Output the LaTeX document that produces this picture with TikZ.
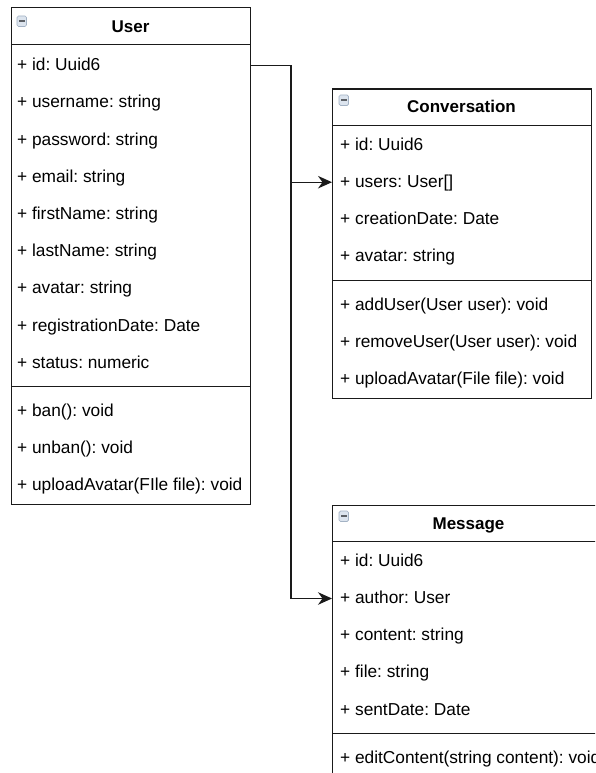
\documentclass[tikz,border=0pt]{standalone}
\usepackage{fontspec}
\setmainfont{Liberation Sans}
\usetikzlibrary{arrows.meta}
\definecolor{edge}{HTML}{1A1A1A}
\definecolor{iconfill}{HTML}{DCE4EE}
\definecolor{iconedge}{HTML}{A3B2C4}
\definecolor{icondash}{HTML}{5C6066}
\frenchspacing
\begin{document}
\begin{tikzpicture}[x=1pt,y=-1pt,
  classbox/.style={draw=edge, line width=1.3pt, fill=white, inner sep=0pt, anchor=north west},
  rule/.style={draw=edge, line width=1.3pt},
  title/.style={font=\bfseries\fontsize{17}{20}\selectfont, anchor=base, inner sep=0pt},
  row/.style={font=\fontsize{17.3}{20}\selectfont, anchor=base west, inner sep=0pt, text height=13pt, text depth=3pt},
  link/.style={draw=edge, line width=1.3pt},
  head/.style={-{Stealth[length=14pt, width=12.5pt, inset=4.5pt]}},
  collapse/.style={draw=iconedge, line width=0.7pt, fill=iconfill, rounded corners=1.5pt}
]
\useasboundingbox (0,0) rectangle (595,773);
\clip (0,0) rectangle (595,773);

% collapse icon in a class header
\newcommand{\collapseicon}[2]{%
  \draw[collapse] (#1,#2) rectangle ++(9.5,10.5);
  \draw[icondash, line width=1.8pt] (#1+2,#2+5.25) -- ++(5.5,0);
}

% ---------- User ----------
\node[classbox, minimum width=238.5pt, minimum height=496.5pt] (user) at (11,7) {};
\collapseicon{17}{16}
\node[title] (user-title) at (130.5,33) {User};
\draw[rule] (11,44.5) -- (249.5,44.5);
\node[row] (u-id)    at (17,70.7)  {+ id: Uuid6};
\node[row] (u-uname) at (17,107.9) {+ username: string};
\node[row] (u-pass)  at (17,145.1) {+ password: string};
\node[row] (u-mail)  at (17,182.3) {+ email: string};
\node[row] (u-first) at (17,219.5) {+ firstName: string};
\node[row] (u-last)  at (17,256.7) {+ lastName: string};
\node[row] (u-avat)  at (17,293.9) {+ avatar: string};
\node[row] (u-reg)   at (17,331.1) {+ registrationDate: Date};
\node[row] (u-stat)  at (17,368.3) {+ status: numeric};
\draw[rule] (11,386.5) -- (249.5,386.5);
\node[row] (u-ban)   at (17,416.5) {+ ban(): void};
\node[row] (u-unban) at (17,453.6) {+ unban(): void};
\node[row] (u-upl)   at (17,490.7) {+ uploadAvatar(FIle file): void};

% ---------- Conversation ----------
\node[classbox, minimum width=259pt, minimum height=309.5pt] (conv) at (332,88.3) {};
\collapseicon{339}{95}
\node[title] (conv-title) at (461.5,112.7) {Conversation};
\draw[rule] (332,125.3) -- (591,125.3);
\node[row] (c-id)    at (340,150)   {+ id: Uuid6};
\node[row] (c-users) at (340,187.2) {+ users: User[]};
\node[row] (c-date)  at (340,224.4) {+ creationDate: Date};
\node[row] (c-avat)  at (340,261.6) {+ avatar: string};
\draw[rule] (332,280.5) -- (591,280.5);
\node[row] (c-add)   at (340,310)   {+ addUser(User user): void};
\node[row] (c-rem)   at (340,347)   {+ removeUser(User user): void};
\node[row] (c-upl)   at (340,384)   {+ uploadAvatar(File file): void};

% ---------- Message ----------
\node[classbox, minimum width=273pt, minimum height=300pt] (msg) at (332,504.5) {};
\collapseicon{339}{511}
\node[title] (msg-title) at (468.5,529) {Message};
\draw[rule] (332,541.5) -- (605,541.5);
\node[row] (m-id)      at (340,566.7) {+ id: Uuid6};
\node[row] (m-author)  at (340,603.5) {+ author: User};
\node[row] (m-content) at (340,640.5) {+ content: string};
\node[row] (m-file)    at (340,677.7) {+ file: string};
\node[row] (m-date)    at (340,715)   {+ sentDate: Date};
\draw[rule] (332,733.3) -- (605,733.3);
\node[row] (m-edit)    at (340,763.3) {+ editContent(string content): void};

% ---------- associations ----------
\coordinate (bus) at (291,0);
\draw[link, head] (user.east |- u-id) -| (bus |- m-author) -- (msg.west |- m-author);
\draw[link, head] (bus |- c-users) -- (conv.west |- c-users);
\end{tikzpicture}
\end{document}
